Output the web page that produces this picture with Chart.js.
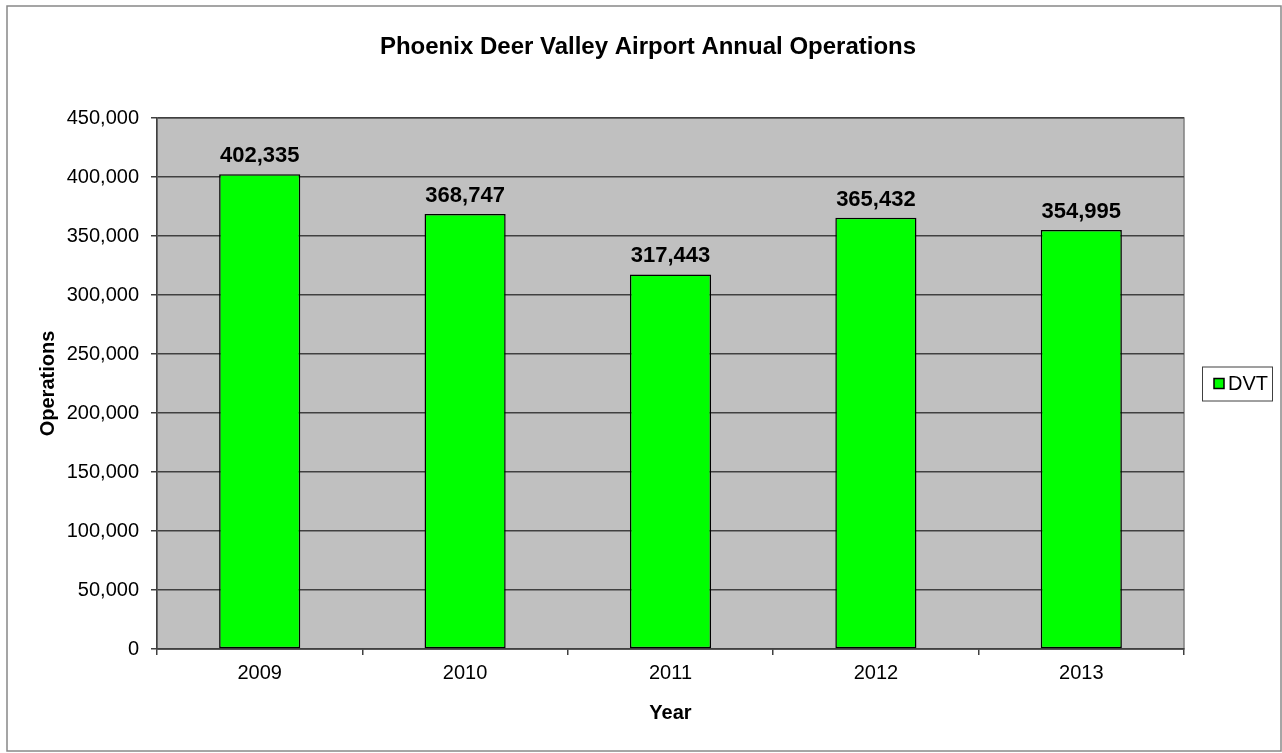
<!DOCTYPE html>
<html>
<head>
<meta charset="utf-8">
<script src="https://cdn.jsdelivr.net/npm/chart.js@4.4.1/dist/chart.umd.min.js"></script>
<style>
  html, body { margin: 0; padding: 0; background: #fff; }
  #wrap { width: 1282px; height: 753px; position: relative; }
</style>
</head>
<body>
<div id="wrap"><canvas id="chart" width="1282" height="753"></canvas></div>
<script>
const years = ['2009', '2010', '2011', '2012', '2013'];
const operations = [402335, 368747, 317443, 365432, 354995];
const seriesName = 'DVT';
const chartTitle = 'Phoenix Deer Valley Airport Annual Operations';
const yMax = 450000;
const yStep = 50000;

const font = 'Arial, "Liberation Sans", sans-serif';
const fmt = (v) => v.toLocaleString('en-US');

// grey plot area with its frame, plus the outer chart border
const plotBackground = {
  id: 'plotBackground',
  beforeDraw(chart) {
    const { ctx, chartArea: a } = chart;
    ctx.save();
    ctx.fillStyle = '#fff';
    ctx.fillRect(0, 0, chart.width, chart.height);
    ctx.strokeStyle = '#888';
    ctx.lineWidth = 1.5;
    ctx.strokeRect(7, 6, 1274, 745);
    ctx.fillStyle = '#c0c0c0';
    ctx.fillRect(a.left, a.top, a.right - a.left, a.bottom - a.top);
    ctx.strokeStyle = '#808080';
    ctx.lineWidth = 1.5;
    ctx.strokeRect(a.left, a.top, a.right - a.left, a.bottom - a.top);
    ctx.restore();
  },
};

// title is centred on the whole picture, not on the plot box
const pageTitle = {
  id: 'pageTitle',
  afterDraw(chart) {
    const { ctx } = chart;
    ctx.save();
    ctx.font = `bold 24px ${font}`;
    ctx.fillStyle = '#000';
    ctx.textAlign = 'center';
    ctx.textBaseline = 'middle';
    ctx.fillText(chartTitle, 648, 47);
    ctx.restore();
  },
};

// value labels above each bar
const valueLabels = {
  id: 'valueLabels',
  afterDatasetsDraw(chart) {
    const { ctx } = chart;
    const meta = chart.getDatasetMeta(0);
    ctx.save();
    ctx.font = `bold 22px ${font}`;
    ctx.fillStyle = '#000';
    ctx.textAlign = 'center';
    ctx.textBaseline = 'alphabetic';
    meta.data.forEach((bar, i) => {
      ctx.fillText(fmt(chart.data.datasets[0].data[i]), bar.x, bar.y - 12);
    });
    ctx.restore();
  },
};

// boxed legend on the right, like the original
const boxLegend = {
  id: 'boxLegend',
  afterDraw(chart) {
    const { ctx, chartArea: a } = chart;
    const ds = chart.data.datasets[0];
    const cy = (a.top + a.bottom) / 2;
    ctx.save();
    ctx.fillStyle = '#fff';
    ctx.fillRect(1202, cy - 17, 70, 34);
    ctx.strokeStyle = '#404040';
    ctx.lineWidth = 1;
    ctx.strokeRect(1202.5, cy - 16.5, 70, 34);
    ctx.fillStyle = ds.backgroundColor;
    ctx.fillRect(1214, cy - 5, 10, 10);
    ctx.strokeStyle = '#000';
    ctx.lineWidth = 1.5;
    ctx.strokeRect(1214, cy - 5, 10, 10);
    ctx.fillStyle = '#000';
    ctx.font = `20px ${font}`;
    ctx.textAlign = 'left';
    ctx.textBaseline = 'middle';
    ctx.fillText(ds.label, 1228, cy + 1);
    ctx.restore();
  },
};

new Chart(document.getElementById('chart'), {
  type: 'bar',
  data: {
    labels: years,
    datasets: [{
      label: seriesName,
      data: operations,
      backgroundColor: '#00ff00',
      borderColor: '#000',
      borderWidth: 1.5,
      borderSkipped: false,
      barPercentage: 0.395,
      categoryPercentage: 1,
    }],
  },
  options: {
    responsive: false,
    animation: false,
    devicePixelRatio: 1,
    layout: { padding: { left: 0, right: 98, top: 118, bottom: 0 } },
    plugins: {
      legend: { display: false },
      tooltip: { enabled: false },
      title: { display: false },
    },
    scales: {
      x: {
        afterFit: (s) => { s.height = 104; },
        grid: {
          offset: true,
          drawOnChartArea: false,
          drawTicks: true,
          tickLength: 6,
          color: '#404040',
          lineWidth: 1.5,
        },
        border: { display: true, color: '#404040', width: 1.5 },
        ticks: { color: '#000', font: { family: font, size: 20 }, padding: 6 },
        title: {
          display: true,
          text: 'Year',
          color: '#000',
          font: { family: font, size: 20, weight: 'bold', lineHeight: 1.2 },
          padding: { top: 0, bottom: 28 },
        },
      },
      y: {
        min: 0,
        max: yMax,
        afterFit: (s) => { s.width = 157; },
        grid: {
          drawOnChartArea: true,
          drawTicks: true,
          tickLength: 6,
          color: '#404040',
          lineWidth: 1.5,
        },
        border: { display: true, color: '#404040', width: 1.5 },
        ticks: {
          stepSize: yStep,
          color: '#000',
          font: { family: font, size: 20 },
          padding: 12,
          callback: (v) => fmt(v),
        },
        title: {
          display: true,
          text: 'Operations',
          color: '#000',
          font: { family: font, size: 20, weight: 'bold', lineHeight: 1.2 },
          padding: { top: 36, bottom: 0 },
        },
      },
    },
  },
  plugins: [plotBackground, valueLabels, boxLegend, pageTitle],
});
</script>
</body>
</html>
